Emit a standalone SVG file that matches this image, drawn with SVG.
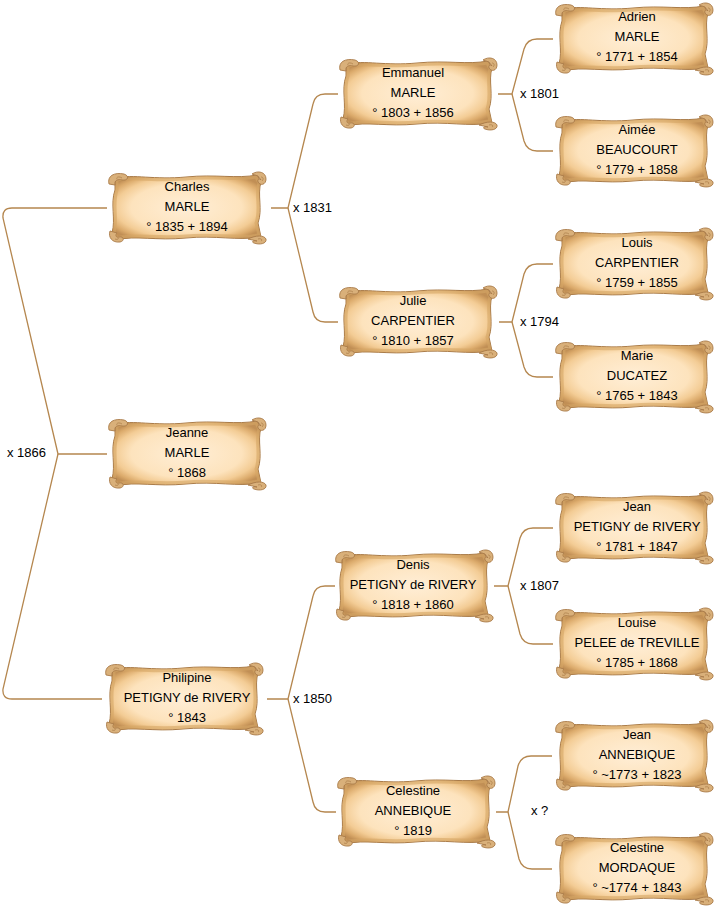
<svg xmlns="http://www.w3.org/2000/svg" xmlns:xlink="http://www.w3.org/1999/xlink" width="716" height="908" viewBox="0 0 716 908">
<style>
.t{font-family:"Liberation Sans",Arial,sans-serif;font-size:13px;fill:#000;text-anchor:middle}
.l{font-family:"Liberation Sans",Arial,sans-serif;font-size:13px;fill:#000}
.c{fill:none;stroke:#b5874f;stroke-width:1.3}
.body{fill:url(#parch);stroke:#a97b48;stroke-width:1}
.rim{fill:none;stroke:#d6a766;stroke-width:3;opacity:0.6}
.curl{fill:#d9b07a;stroke:#a97b48;stroke-width:0.9}
.sp{fill:none;stroke:#a97b48;stroke-width:0.7}
</style>
<defs>
<radialGradient id="parch" cx="50%" cy="50%" r="60%">
<stop offset="0" stop-color="#ffeed6"/>
<stop offset="0.62" stop-color="#fde3bd"/>
<stop offset="0.8" stop-color="#f3cc95"/>
<stop offset="0.92" stop-color="#dcab6c"/>
<stop offset="1" stop-color="#c18f55"/>
</radialGradient>
<symbol id="scroll" viewBox="0 0 162 76" width="162" height="76">
<path class="body" d="M9,9 C28,5 48,11 80,8 C110,5 130,10 151,6 L155,13 C151,26 157,40 152,54 L155,68 C130,72 110,66 80,69 C50,72 30,66 10,71 L6,64 C10,50 4,35 9,21 Z"/>
<path class="rim" d="M11,11 C28,7 48,13 80,10 C110,7 130,12 150,8 L153,14 C149,26 155,40 150,54 L153,66 C130,70 110,64 80,67 C50,70 30,64 11,69 L8,63 C12,50 6,35 11,21 Z"/>
<path class="curl" d="M3,15 C1,7 8,3 18,5 C24,7 22,12 16,11 C12,10 8,11 9,16 Z"/>
<path class="sp" d="M16,9 C13,7 10,8 11,10"/>
<path class="curl" d="M146,5 C152,1 160,3 160,10 C160,16 154,17 152,13 C151,10 154,9 155,11 L152,7 Z"/>
<path class="sp" d="M155,8 C157,8 158,10 156,12"/>
<path class="curl" d="M4,62 C2,68 6,74 14,73 C19,72 18,67 13,68 C10,69 9,66 11,64 Z"/>
<path class="sp" d="M9,70 C11,71 13,70 12,69"/>
<path class="curl" d="M142,70 C150,66 158,66 160,70 C161,75 153,76 148,74 C145,73 147,71 151,72 Z"/>
<path class="sp" d="M152,70 C155,69 157,71 155,72"/>
</symbol>
</defs>
<g id="connectors">
<path class="c" d="M107,208 H12 Q2,208 3,218 L58,454 H107"/>
<path class="c" d="M58,454 L3,689 Q2,699 12,699 H102"/>
<path class="c" d="M271,208 H288 L313,104 Q315,94 325,94 H338"/>
<path class="c" d="M288,208 L313,312 Q315,322 325,322 H338"/>
<path class="c" d="M267,699 H288 L313,596 Q315,586 325,586 H335"/>
<path class="c" d="M288,699 L313,802 Q315,812 325,812 H336"/>
<path class="c" d="M498,94 H512 L524,49 Q527,39 537,39 H553"/>
<path class="c" d="M512,94 L524,141 Q527,151 537,151 H553"/>
<path class="c" d="M499,322 H512 L524,274 Q527,264 537,264 H553"/>
<path class="c" d="M512,322 L524,367 Q527,377 537,377 H553"/>
<path class="c" d="M494,586 H508 L520,538 Q523,528 533,528 H553"/>
<path class="c" d="M508,586 L520,634 Q523,644 533,644 H553"/>
<path class="c" d="M496,812 H508 L518,766 Q521,756 531,756 H552"/>
<path class="c" d="M508,812 L519,859 Q522,869 532,869 H552"/>
<text class="l" x="7" y="457">x 1866</text>
<text class="l" x="293" y="212">x 1831</text>
<text class="l" x="293" y="703">x 1850</text>
<text class="l" x="520" y="98">x 1801</text>
<text class="l" x="520" y="326">x 1794</text>
<text class="l" x="520" y="590">x 1807</text>
<text class="l" x="531" y="815">x ?</text>
</g>
<g id="charles"><use href="#scroll" x="106" y="169"/><text class="t" x="187" y="191">Charles</text><text class="t" x="187" y="211">MARLE</text><text class="t" x="187" y="231">° 1835 + 1894</text></g>
<g id="jeanne"><use href="#scroll" x="106" y="415"/><text class="t" x="187" y="437">Jeanne</text><text class="t" x="187" y="457">MARLE</text><text class="t" x="187" y="477">° 1868</text></g>
<g id="philipine"><use href="#scroll" x="103" y="660"/><text class="t" x="187" y="682">Philipine</text><text class="t" x="187" y="702">PETIGNY de RIVERY</text><text class="t" x="187" y="722">° 1843</text></g>
<g id="emmanuel"><use href="#scroll" x="337" y="55"/><text class="t" x="413" y="77">Emmanuel</text><text class="t" x="413" y="97">MARLE</text><text class="t" x="413" y="117">° 1803 + 1856</text></g>
<g id="julie"><use href="#scroll" x="337" y="283"/><text class="t" x="413" y="305">Julie</text><text class="t" x="413" y="325">CARPENTIER</text><text class="t" x="413" y="345">° 1810 + 1857</text></g>
<g id="denis"><use href="#scroll" x="333" y="547"/><text class="t" x="413" y="569">Denis</text><text class="t" x="413" y="589">PETIGNY de RIVERY</text><text class="t" x="413" y="609">° 1818 + 1860</text></g>
<g id="celestine-annebique"><use href="#scroll" x="335" y="773"/><text class="t" x="413" y="795">Celestine</text><text class="t" x="413" y="815">ANNEBIQUE</text><text class="t" x="413" y="835">° 1819</text></g>
<g id="adrien"><use href="#scroll" x="553" y="0"/><text class="t" x="637" y="21">Adrien</text><text class="t" x="637" y="41">MARLE</text><text class="t" x="637" y="61">° 1771 + 1854</text></g>
<g id="aimee"><use href="#scroll" x="553" y="112"/><text class="t" x="637" y="134">Aimée</text><text class="t" x="637" y="154">BEAUCOURT</text><text class="t" x="637" y="174">° 1779 + 1858</text></g>
<g id="louis"><use href="#scroll" x="553" y="225"/><text class="t" x="637" y="247">Louis</text><text class="t" x="637" y="267">CARPENTIER</text><text class="t" x="637" y="287">° 1759 + 1855</text></g>
<g id="marie"><use href="#scroll" x="553" y="338"/><text class="t" x="637" y="360">Marie</text><text class="t" x="637" y="380">DUCATEZ</text><text class="t" x="637" y="400">° 1765 + 1843</text></g>
<g id="jean-petigny"><use href="#scroll" x="553" y="489"/><text class="t" x="637" y="511">Jean</text><text class="t" x="637" y="531">PETIGNY de RIVERY</text><text class="t" x="637" y="551">° 1781 + 1847</text></g>
<g id="louise"><use href="#scroll" x="553" y="605"/><text class="t" x="637" y="627">Louise</text><text class="t" x="637" y="647">PELEE de TREVILLE</text><text class="t" x="637" y="667">° 1785 + 1868</text></g>
<g id="jean-annebique"><use href="#scroll" x="553" y="717"/><text class="t" x="637" y="739">Jean</text><text class="t" x="637" y="759">ANNEBIQUE</text><text class="t" x="637" y="779">° ~1773 + 1823</text></g>
<g id="celestine-mordaque"><use href="#scroll" x="553" y="830"/><text class="t" x="637" y="852">Celestine</text><text class="t" x="637" y="872">MORDAQUE</text><text class="t" x="637" y="892">° ~1774 + 1843</text></g>
</svg>
